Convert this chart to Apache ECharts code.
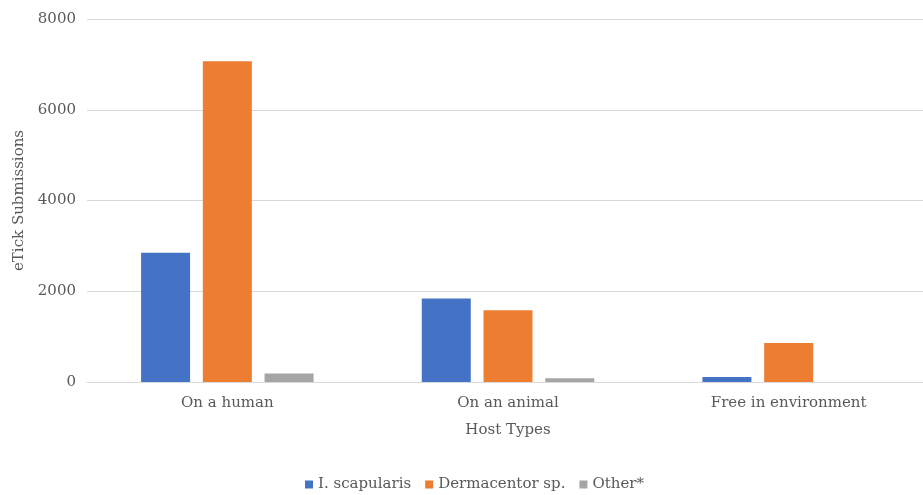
<!DOCTYPE html>
<html>
<head>
<meta charset="utf-8">
<script src="https://cdn.jsdelivr.net/npm/echarts@6/dist/echarts.min.js"></script>
<style>
  html, body { margin: 0; padding: 0; background: #fff; overflow: hidden; }
  /* the plot area runs a few pixels past the right edge of the page */
  #chart { width: 929px; height: 495px; }
</style>
</head>
<body>
<div id="chart"></div>
<script>
// Host types on the category axis
const hostTypes = ['On a human', 'On an animal', 'Free in environment'];

// eTick submissions per tick group
const scapularis = [2850, 1840, 110];
const dermacentor = [7070, 1580, 860];
const other = [190, 80, 0];

const seriesNames = ['I. scapularis', 'Dermacentor sp.', 'Other*'];
const seriesColors = ['#4472C4', '#ED7D31', '#A5A5A5'];

const textColor = '#595959';
const fontFamily = '"DejaVu Serif", serif';

const chart = echarts.init(document.getElementById('chart'));

function barSeries(name, data, color) {
  return {
    name: name,
    type: 'bar',
    data: data,
    barWidth: 49,
    barGap: '26%',
    itemStyle: { color: color },
    emphasis: { disabled: true }
  };
}

chart.setOption({
  animation: false,
  textStyle: { fontFamily: fontFamily },
  grid: { left: 87, right: 0, top: 19, bottom: 113 },
  legend: {
    bottom: -2,
    left: 300,
    itemWidth: 8,
    itemHeight: 8,
    itemGap: 14,
    icon: 'rect',
    textStyle: { color: textColor, fontSize: 15, fontFamily: fontFamily },
    data: seriesNames
  },
  xAxis: {
    type: 'category',
    data: hostTypes,
    name: 'Host Types',
    nameLocation: 'middle',
    nameGap: 41,
    nameTextStyle: { color: textColor, fontSize: 15, fontFamily: fontFamily },
    axisLine: { show: true, lineStyle: { color: '#D9D9D9', width: 1 } },
    axisTick: { show: false },
    axisLabel: { color: textColor, fontSize: 15, margin: 14, fontFamily: fontFamily }
  },
  yAxis: {
    type: 'value',
    min: 0,
    max: 8000,
    interval: 2000,
    name: 'eTick Submissions',
    nameLocation: 'middle',
    nameGap: 52,
    nameTextStyle: { color: textColor, fontSize: 15, fontFamily: fontFamily },
    axisLine: { show: false },
    axisTick: { show: false },
    axisLabel: {
      color: textColor,
      fontSize: 15,
      margin: 11,
      fontFamily: fontFamily,
      formatter: function (v) { return String(v); }
    },
    splitLine: { lineStyle: { color: '#D9D9D9', width: 1 } }
  },
  series: [
    barSeries(seriesNames[0], scapularis, seriesColors[0]),
    barSeries(seriesNames[1], dermacentor, seriesColors[1]),
    barSeries(seriesNames[2], other, seriesColors[2])
  ]
});
</script>
</body>
</html>
